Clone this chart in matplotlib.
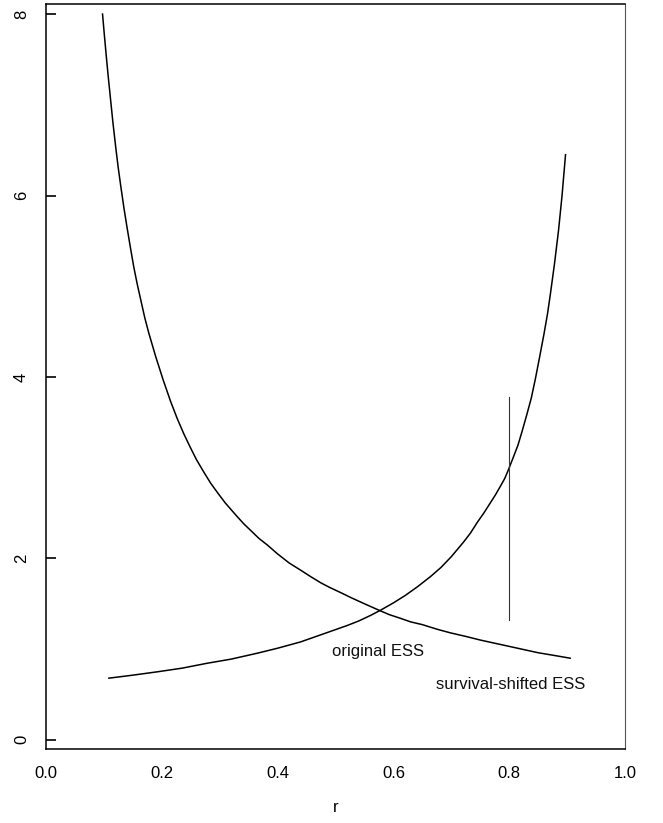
import matplotlib
matplotlib.use("Agg")
import matplotlib.pyplot as plt

plt.rcParams['font.family'] = ['Liberation Sans', 'DejaVu Sans']

# Decreasing curve
r_dec = [0.098, 0.101, 0.105, 0.108, 0.112, 0.116, 0.121, 0.125, 0.130, 0.135,
         0.140, 0.146, 0.152, 0.158, 0.165, 0.171, 0.178, 0.184, 0.190, 0.2025,
         0.2155, 0.227, 0.2385, 0.249, 0.260, 0.272, 0.2845, 0.297, 0.310, 0.3305,
         0.342, 0.355, 0.368, 0.382, 0.400, 0.420, 0.440, 0.457, 0.475, 0.490,
         0.510, 0.526, 0.550, 0.5747, 0.593, 0.612, 0.630, 0.650, 0.675, 0.698,
         0.725, 0.750, 0.775, 0.800, 0.825, 0.850, 0.878, 0.905]
y_dec = [8.00, 7.78, 7.50, 7.30, 7.05, 6.80, 6.52, 6.31, 6.08, 5.86,
         5.66, 5.43, 5.21, 5.02, 4.82, 4.65, 4.48, 4.35, 4.22, 3.97,
         3.73, 3.54, 3.37, 3.23, 3.09, 2.96, 2.83, 2.72, 2.61, 2.46,
         2.38, 2.30, 2.22, 2.15, 2.05, 1.95, 1.87, 1.80, 1.73, 1.68,
         1.62, 1.57, 1.50, 1.43, 1.38, 1.34, 1.30, 1.27, 1.22, 1.18,
         1.14, 1.10, 1.065, 1.03, 0.995, 0.96, 0.93, 0.90]

# Increasing curve
r_inc = [0.109, 0.150, 0.1925, 0.235, 0.279, 0.320, 0.365, 0.400, 0.440, 0.480,
         0.520, 0.540, 0.560, 0.578, 0.600, 0.620, 0.642, 0.664, 0.682, 0.700,
         0.721, 0.733, 0.745, 0.756, 0.767, 0.776, 0.785, 0.792, 0.798, 0.806,
         0.815, 0.822, 0.830, 0.838, 0.845, 0.852, 0.860, 0.866, 0.871, 0.878,
         0.885, 0.891, 0.897]
y_inc = [0.68, 0.713, 0.75, 0.79, 0.845, 0.89, 0.955, 1.01, 1.08, 1.17,
         1.26, 1.31, 1.37, 1.43, 1.51, 1.59, 1.69, 1.80, 1.90, 2.02,
         2.18, 2.28, 2.40, 2.50, 2.61, 2.70, 2.80, 2.88, 2.97, 3.10,
         3.25, 3.40, 3.58, 3.77, 3.98, 4.21, 4.48, 4.70, 4.92, 5.25,
         5.62, 6.00, 6.45]

# Vertical marker
vline_r = 0.8
vline_y = [1.32, 3.78]

# Annotations
labels = ["original ESS", "survival-shifted ESS"]
label_r = [0.574, 0.803]
label_y = [0.97, 0.61]

x_ticks = [0.0, 0.2, 0.4, 0.6, 0.8, 1.0]
x_ticklabels = ["0.0", "0.2", "0.4", "0.6", "0.8", "1.0"]
y_ticks = [0, 2, 4, 6, 8]
y_ticklabels = ["0", "2", "4", "6", "8"]

fig = plt.figure(figsize=(6.63, 8.23), dpi=100)
ax = fig.add_axes([0.069, 0.090, 0.874, 0.905])

ax.plot(r_dec, y_dec, color='black', lw=1.1, solid_joinstyle='round')
ax.plot(r_inc, y_inc, color='black', lw=1.1, solid_joinstyle='round')
ax.plot([vline_r, vline_r], vline_y, color='#333333', lw=0.8)

for t, xr, yr in zip(labels, label_r, label_y):
    ax.text(xr, yr, t, ha='center', va='center', fontsize=12, color='#111111')

ax.set_xlim(0, 1.0)
ax.set_ylim(-0.1, 8.11)
ax.set_xticks(x_ticks)
ax.set_xticklabels(x_ticklabels)
ax.set_yticks(y_ticks)
ax.set_yticklabels(y_ticklabels, rotation=90, va='center')
ax.tick_params(axis='y', direction='in', length=7, width=1.2, pad=12, labelsize=12)
ax.tick_params(axis='x', direction='in', length=0, pad=12, labelsize=12)
ax.set_xlabel("r", fontsize=12, labelpad=14)

for s in ax.spines.values():
    s.set_linewidth(1.1)
    s.set_color('black')
ax.spines['right'].set_color('#555555')
ax.spines['right'].set_linewidth(0.8)

fig.savefig("out.png", dpi=100)
